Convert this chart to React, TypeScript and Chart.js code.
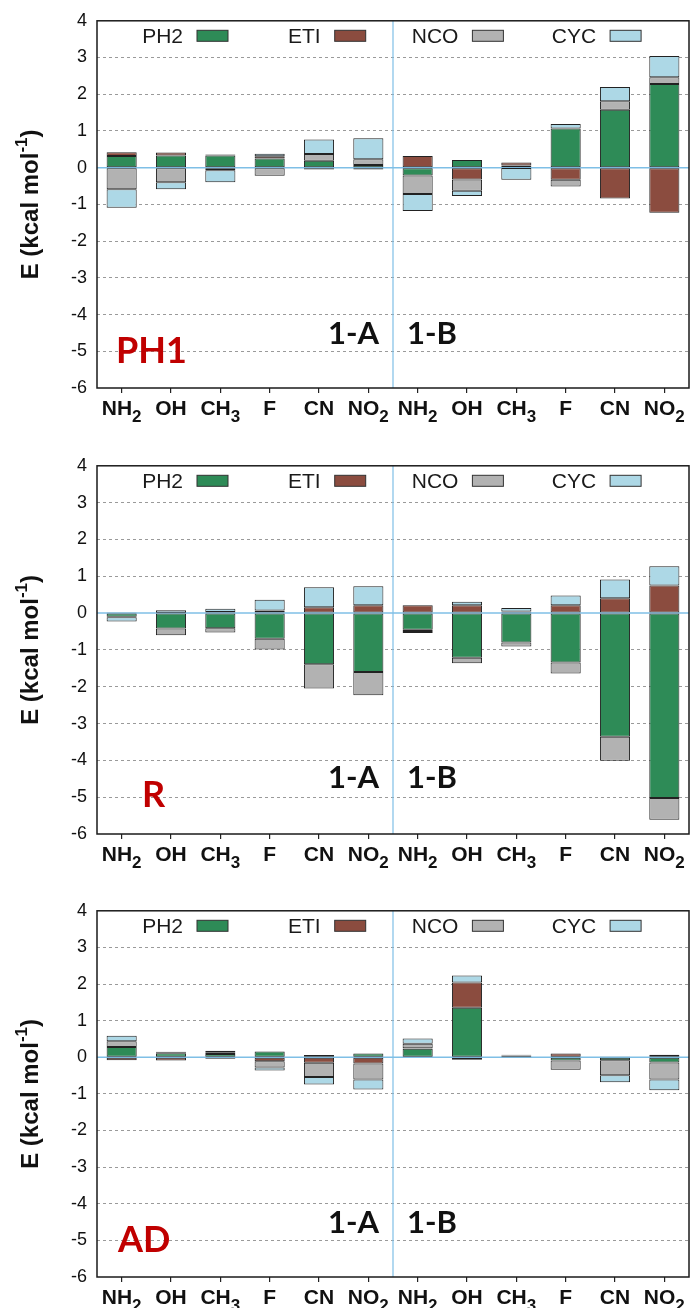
import React, { useEffect, useRef } from "react";
import { Chart, registerables } from "chart.js";

Chart.register(...registerables);

// ---------- data ----------
const categories = ["NH₂", "OH", "CH₃", "F", "CN", "NO₂", "NH₂", "OH", "CH₃", "F", "CN", "NO₂"];
const groupLabels = ["1-A", "1-B"];
const seriesNames = ["PH2", "ETI", "NCO", "CYC"];
const seriesColors = ["#2e8b57", "#8b4c3f", "#b2b2b2", "#add8e6"];
const yMin = -6;
const yMax = 4;
const yStep = 1;
const yTitleMain = "E (kcal mol";
const yTitleSup = "-1";
const yTitleEnd = ")";

// Panel PH1
const ph1PH2 = [0.32, 0.33, 0.33, 0.25, 0.19, 0.07, -0.21, 0.21, 0.06, 1.07, 1.58, 2.28];
const ph1ETI = [0.1, 0.08, 0.03, 0.06, -0.05, -0.05, 0.32, -0.32, 0.08, -0.33, -0.84, -1.23];
const ph1NCO = [-0.59, -0.4, -0.07, -0.22, 0.18, 0.16, -0.51, -0.31, -0.01, -0.18, 0.23, 0.18];
const ph1CYC = [-0.5, -0.19, -0.33, 0.07, 0.4, 0.57, -0.46, -0.14, -0.32, 0.12, 0.39, 0.58];

// Panel R
const rPH2 = [-0.1, -0.42, -0.41, -0.7, -1.39, -1.6, -0.45, -1.21, -0.8, -1.34, -3.36, -5.02];
const rETI = [0.02, 0.01, 0.03, 0.07, 0.16, 0.21, 0.21, 0.21, 0.04, 0.21, 0.4, 0.75];
const rNCO = [-0.01, -0.18, -0.12, -0.29, -0.66, -0.63, -0.04, -0.15, -0.11, -0.3, -0.65, -0.59];
const rCYC = [-0.12, 0.07, 0.09, 0.29, 0.54, 0.52, -0.05, 0.1, 0.1, 0.27, 0.51, 0.52];

// Panel AD
const adPH2 = [0.28, 0.11, 0.09, 0.16, 0.06, 0.1, 0.23, 1.35, 0.04, -0.09, -0.08, -0.14];
const adETI = [-0.08, -0.09, -0.04, -0.11, -0.15, -0.17, 0.02, 0.69, 0.01, 0.1, 0.02, 0.07];
const adNCO = [0.16, 0.03, 0.05, -0.17, -0.39, -0.44, 0.12, -0.07, -0.02, -0.25, -0.41, -0.47];
const adCYC = [0.15, 0.01, 0.04, -0.08, -0.2, -0.27, 0.14, 0.19, 0.02, -0.01, -0.19, -0.29];

const panelNames = ["PH1", "R", "AD"];

// ---------- layout ----------
const SANS = "'Liberation Sans', Arial, Helvetica, sans-serif";
const TAGFONT = "Lato, 'Open Sans', sans-serif";

const panels = [
  { name: panelNames[0], series: [ph1PH2, ph1ETI, ph1NCO, ph1CYC], top: 0, height: 445, xAxisH: 57, tagX: 116, tagSize: 36, tagUp: 25, groupUp: 44 },
  { name: panelNames[1], series: [rPH2, rETI, rNCO, rCYC], top: 445, height: 445, xAxisH: 56, tagX: 142, tagSize: 36, tagUp: 27, groupUp: 46 },
  { name: panelNames[2], series: [adPH2, adETI, adNCO, adCYC], top: 890, height: 418, xAxisH: 31, tagX: 118, tagSize: 36, tagUp: 25, groupUp: 44 },
];

const subMap: Record<string, string> = { "₂": "2", "₃": "3" };

function splitLabel(s: string) {
  let main = "";
  let sub = "";
  for (const ch of s) {
    if (subMap[ch]) sub += subMap[ch];
    else main += ch;
  }
  return { main, sub };
}

function makeDecor(cfg: any) {
  return {
    id: "decor",
    beforeDatasetsDraw(chart: any) {
      const { ctx, chartArea } = chart;
      const xs = chart.scales.x;
      const ys = chart.scales.y;
      ctx.save();
      // divider between groups
      const dx = (xs.getPixelForValue(5) + xs.getPixelForValue(6)) / 2;
      ctx.strokeStyle = "#7fbfe6";
      ctx.lineWidth = 1.2;
      ctx.beginPath();
      ctx.moveTo(dx, chartArea.top);
      ctx.lineTo(dx, chartArea.bottom);
      ctx.stroke();
      // zero line
      const zy = ys.getPixelForValue(0);
      ctx.lineWidth = 1.5;
      ctx.beginPath();
      ctx.moveTo(chartArea.left, zy);
      ctx.lineTo(chartArea.right, zy);
      ctx.stroke();
      ctx.restore();
    },
    afterDraw(chart: any) {
      const { ctx, chartArea } = chart;
      const xs = chart.scales.x;
      ctx.save();
      // frame
      ctx.strokeStyle = "#1a1a1a";
      ctx.lineWidth = 1.5;
      ctx.strokeRect(chartArea.left, chartArea.top, chartArea.right - chartArea.left, chartArea.bottom - chartArea.top);

      // legend (text then box)
      const ly = chartArea.top + 15;
      chart.data.datasets.forEach((ds: any, i: number) => {
        const bx = chartArea.left + 100 + i * 137.7;
        ctx.font = "21px " + SANS;
        ctx.fillStyle = "#1a1a1a";
        ctx.textAlign = "right";
        ctx.textBaseline = "middle";
        ctx.fillText(ds.label, bx - 14, ly + 1);
        ctx.fillStyle = ds.backgroundColor;
        ctx.fillRect(bx, ly - 5.5, 31, 11);
        ctx.strokeStyle = "#333";
        ctx.lineWidth = 1;
        ctx.strokeRect(bx, ly - 5.5, 31, 11);
      });

      // panel tag
      ctx.textBaseline = "alphabetic";
      ctx.textAlign = "left";
      ctx.fillStyle = "#c00000";
      ctx.font = "bold " + cfg.tagSize + "px " + TAGFONT;
      ctx.fillText(cfg.name, cfg.tagX, chartArea.bottom - cfg.tagUp);

      // group labels
      const dx = (xs.getPixelForValue(5) + xs.getPixelForValue(6)) / 2;
      ctx.fillStyle = "#111";
      ctx.font = "bold 31px " + TAGFONT;
      ctx.textAlign = "right";
      ctx.fillText(groupLabels[0], dx - 14, chartArea.bottom - cfg.groupUp);
      ctx.textAlign = "left";
      ctx.fillText(groupLabels[1], dx + 14, chartArea.bottom - cfg.groupUp);

      // x labels with subscripts
      ctx.fillStyle = "#111";
      const mainFont = "bold 21px " + SANS;
      const subFont = "bold 17px " + SANS;
      chart.data.labels.forEach((lab: string, i: number) => {
        const { main, sub } = splitLabel(lab);
        const x = xs.getPixelForValue(i);
        ctx.font = mainFont;
        const wm = ctx.measureText(main).width;
        ctx.font = subFont;
        const wsub = sub ? ctx.measureText(sub).width : 0;
        const start = x - (wm + wsub) / 2;
        const by = chartArea.bottom + 27;
        ctx.textAlign = "left";
        ctx.font = mainFont;
        ctx.fillText(main, start, by);
        if (sub) {
          ctx.font = subFont;
          ctx.fillText(sub, start + wm, by + 7);
        }
      });

      // y title (rotated) with superscript
      const cy = (chartArea.top + chartArea.bottom) / 2;
      ctx.translate(38, cy);
      ctx.rotate(-Math.PI / 2);
      const f1 = "bold 24px " + SANS;
      const f2 = "bold 17px " + SANS;
      ctx.font = f1;
      const w1 = ctx.measureText(yTitleMain).width;
      const w3 = ctx.measureText(yTitleEnd).width;
      ctx.font = f2;
      const w2 = ctx.measureText(yTitleSup).width;
      const total = w1 + w2 + w3;
      let px = -total / 2;
      ctx.textAlign = "left";
      ctx.fillStyle = "#111";
      ctx.font = f1;
      ctx.fillText(yTitleMain, px, 0);
      px += w1;
      ctx.font = f2;
      ctx.fillText(yTitleSup, px, -11);
      px += w2;
      ctx.font = f1;
      ctx.fillText(yTitleEnd, px, 0);
      ctx.restore();
    },
  };
}

function Panel({ cfg }: { cfg: any }) {
  const ref = useRef<HTMLCanvasElement | null>(null);
  useEffect(() => {
    if (!ref.current) return;
    const chart = new Chart(ref.current, {
      type: "bar",
      data: {
        labels: categories,
        datasets: seriesNames.map((n, i) => ({
          label: n,
          data: cfg.series[i],
          backgroundColor: seriesColors[i],
          borderColor: "#222",
          borderWidth: 1,
          borderSkipped: false,
          categoryPercentage: 1,
          barPercentage: 0.61,
        })),
      },
      options: {
        animation: false,
        responsive: false,
        maintainAspectRatio: false,
        events: [],
        layout: { padding: { top: 19, right: 1, left: 0, bottom: 0 } },
        plugins: { legend: { display: false }, tooltip: { enabled: false }, title: { display: false } },
        scales: {
          x: {
            stacked: true,
            offset: true,
            border: { display: false },
            grid: {
              display: true,
              offset: false,
              drawOnChartArea: false,
              drawTicks: true,
              tickLength: 5,
              color: "#222",
              lineWidth: 1.2,
            },
            ticks: { display: false },
            afterFit: (s: any) => {
              s.height = cfg.xAxisH;
            },
          },
          y: {
            stacked: true,
            min: yMin,
            max: yMax,
            border: { display: false, dash: [3, 3] },
            grid: {
              drawTicks: false,
              lineWidth: 1,
              color: (c: any) => {
                const v = c.tick ? c.tick.value : null;
                if (v === 0 || v === yMin || v === yMax) return "rgba(0,0,0,0)";
                return "#9a9a9a";
              },
            },
            ticks: {
              stepSize: yStep,
              padding: 10,
              color: "#111",
              font: { family: SANS, size: 18 },
            },
            afterFit: (s: any) => {
              s.width = 97;
            },
          },
        },
      },
      plugins: [makeDecor(cfg)],
    } as any);
    return () => chart.destroy();
  }, []);
  return <canvas ref={ref} width={690} height={cfg.height} style={{ display: "block", width: 690, height: cfg.height }} />;
}

export default function App() {
  return (
    <div style={{ position: "absolute", left: 0, top: 0, width: 690, height: 1308, overflow: "hidden", background: "#fff" }}>
      {panels.map((p) => (
        <div key={p.name} style={{ position: "absolute", left: 0, top: p.top, width: 690, height: p.height }}>
          <Panel cfg={p} />
        </div>
      ))}
    </div>
  );
}
